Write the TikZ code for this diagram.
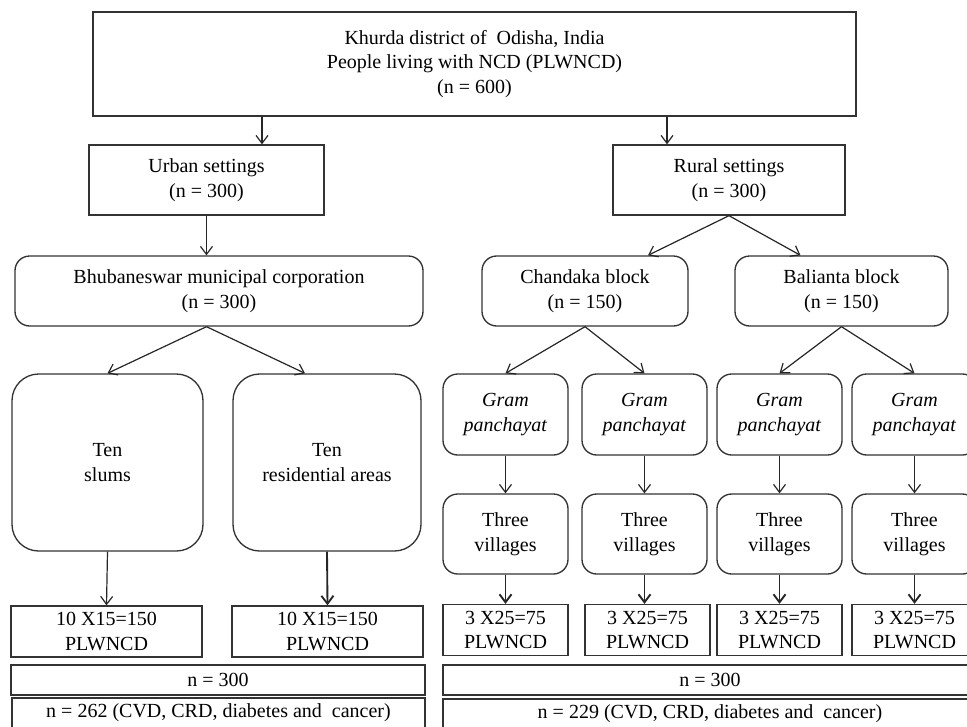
\documentclass[tikz,border=0pt]{standalone}
\usepackage{fontspec}
\setmainfont{Liberation Serif}
\usetikzlibrary{positioning,calc,arrows.meta}

\begin{document}
\begin{tikzpicture}[x=0.75pt,y=-0.75pt,
	base/.style={draw=black!80, line width=1pt, inner sep=0pt, align=center, font=\fontsize{15}{18.4}\selectfont},
	sq/.style 2 args={base, rectangle, minimum width=#1*0.75pt, minimum height=#2*0.75pt},
	rnd/.style 2 args={base, rounded corners=11pt, minimum width=#1*0.75pt, minimum height=#2*0.75pt},
	arr/.style={draw=black!85, line width=0.9pt, -{Straight Barb[length=6pt,width=9pt]}},
	harr/.style={arr, line width=1.4pt}]
			\useasboundingbox (0,0) rectangle (967,726);
			\clip (0,0) rectangle (967,726);
			
			\node[sq={763}{104}] (top) at (474.5,64) {Khurda district of\ \ Odisha, India\\People living with NCD (PLWNCD)\\(n = 600)};
			\node[sq={235}{70}] (urban) at (206.5,180) {Urban settings\\(n = 300)};
			\node[sq={232}{70}] (rural) at (729,180) {Rural settings\\(n = 300)};
			
			\node[rnd={408}{70}] (bmc) at (219,291) {Bhubaneswar municipal corporation\\(n = 300)};
			\node[rnd={206}{70}] (chandaka) at (585,291) {Chandaka block\\(n = 150)};
			\node[rnd={213}{70}] (balianta) at (841.5,291) {Balianta block\\(n = 150)};
			
			\node[rnd={191}{177}, rounded corners=20pt] (slums) at (107.5,462.5) {Ten\\slums};
			\node[rnd={188}{177}, rounded corners=20pt] (resid) at (327,462.5) {Ten\\residential areas};
			\foreach \gx [count=\k] in {505.5,644.5,779.5,914.5}
			{
			\node[rnd={125}{81}] (gram\k) at (\gx,414.5) {\textit{Gram}\\\textit{panchayat}};
			\node[rnd={125}{80}] (vill\k) at (\gx,534) {Three\\villages};
			}
			
			\node[sq={191}{51}] (res1) at (106.5,631.5) {10 X15=150\\PLWNCD};
			\node[sq={191}{51}] (res2) at (327.5,631.5) {10 X15=150\\PLWNCD};
			\foreach \gx [count=\k from 3] in {505.5,647.5,779.5,914.5}
			\node[sq={125}{51}] (res\k) at (\gx,630) {3 X25=75\\PLWNCD};
			
			\node[sq={414}{30}] (nurb) at (218,680) {n = 300};
			\node[sq={534}{30}] (nrur) at (710,680) {n = 300};
			\node[sq={413}{30}] (lurb) at (218.5,713) {n = 262 (CVD, CRD, diabetes and\ \ cancer)};
			\node[sq={534}{30}] (lrur) at (710,714) {n = 229 (CVD, CRD, diabetes and\ \ cancer)};
			
			\coordinate (ua) at (262,0);
			\coordinate (ra) at (667,0);
			\draw[arr] (top.south -| ua) -- (urban.north -| ua);
			\draw[arr] (top.south -| ra) -- (rural.north -| ra);
			\draw[arr] (urban.south) -- (bmc.north -| urban.south);
			
			\draw[arr] (bmc.south -| urban.south) -- (slums.north);
			\draw[arr] (bmc.south -| urban.south) -- ($(resid.north)+(-22,0)$);
			\draw[arr] (slums.south) -- (res1.north);
			\draw[harr] (resid.south) -- (res2.north);
			
			\draw[arr] (rural.south) -- ($(chandaka.north)+(63,0)$);
			\draw[arr] (rural.south) -- ($(balianta.north)+(-41,0)$);
			\foreach \k in {1,2}
			\draw[arr] (chandaka.south) -- (gram\k.north);
			\foreach \k in {3,4}
			\draw[arr] (balianta.south) -- (gram\k.north);
			\foreach \k in {1,...,4}
			{
			\pgfmathtruncatemacro\r{\k+2}
			\draw[arr] (gram\k.south) -- (vill\k.north);
			\draw[harr] (vill\k.south) -- (res\r.north -| vill\k.south);
			}
\end{tikzpicture}
\end{document}
